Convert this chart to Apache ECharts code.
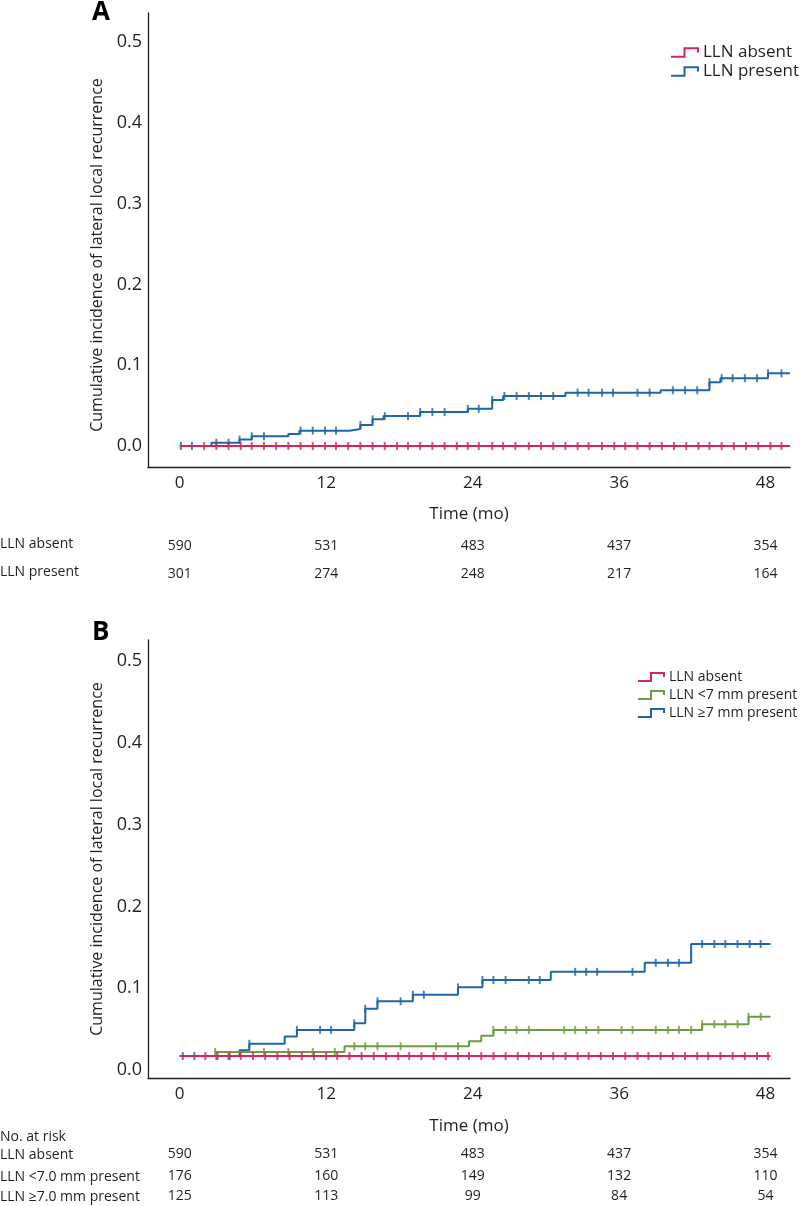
<!DOCTYPE html>
<html><head><meta charset="utf-8">
<script src="https://cdn.jsdelivr.net/npm/echarts@6/dist/echarts.min.js"></script>
<style>html,body{margin:0;padding:0;background:#fff}#c{width:800px;height:1206px}</style>
</head><body><div id="c"></div>
<script>
// ---------- data ----------
const timeTicks = [0, 12, 24, 36, 48];
const yTicks = [0, 0.1, 0.2, 0.3, 0.4, 0.5];
const yTitle = 'Cumulative incidence of lateral local recurrence';
const xTitle = 'Time (mo)';

const namesA = ['LLN absent', 'LLN present'];
const namesB = ['LLN absent', 'LLN <7 mm present', 'LLN \u22657 mm present'];
const riskRowsA = ['LLN absent', 'LLN present'];
const riskRowsB = ['LLN absent', 'LLN <7.0 mm present', 'LLN \u22657.0 mm present'];
const riskHeaderB = 'No. at risk';

const riskA_absent = [590, 531, 483, 437, 354];
const riskA_present = [301, 274, 248, 217, 164];
const riskB_absent = [590, 531, 483, 437, 354];
const riskB_lt7 = [176, 160, 149, 132, 110];
const riskB_ge7 = [125, 113, 99, 84, 54];

// step curves: [time, cumulative incidence]
const stepsA_absent = [[0, 0], [50, 0]];
const stepsA_present = [[0, 0], [2.6, 0.004], [4.9, 0.008], [5.9, 0.012], [8.9, 0.015], [9.8, 0.019],
  [13.9, 0.021], [14.8, 0.026], [15.8, 0.033], [16.7, 0.037], [19.7, 0.042], [23.6, 0.046],
  [25.6, 0.057], [26.5, 0.062], [31.6, 0.066], [39.4, 0.069], [43.4, 0.079], [44.3, 0.084],
  [48.2, 0.090], [50, 0.090]];
const stepsB_absent = [[0, 0.017], [48.4, 0.017]];
const stepsB_lt7 = [[2.9, 0.022], [13.5, 0.029], [23.7, 0.035], [24.7, 0.042], [25.7, 0.049],
  [42.8, 0.056], [46.6, 0.065], [48.4, 0.065]];
const stepsB_ge7 = [[0, 0.017], [4.9, 0.024], [5.7, 0.032], [8.6, 0.041], [9.6, 0.049],
  [14.3, 0.057], [15.2, 0.075], [16.2, 0.084], [19.1, 0.092], [22.8, 0.101], [24.8, 0.110],
  [30.4, 0.120], [38.1, 0.131], [41.9, 0.154], [48.4, 0.154]];

// censoring times (months)
const censorA_absent = [2.0, 3.0, 4.0, 5.0, 5.9, 6.9, 7.9, 8.9, 9.9, 10.9, 11.9, 12.8, 13.8, 14.8, 15.8,
  16.8, 17.8, 18.7, 19.7, 20.7, 21.7, 22.7, 23.6, 24.5, 25.6, 26.5, 27.5, 28.6, 29.6, 30.6, 31.6, 32.6,
  33.5, 34.6, 35.6, 36.5, 37.5, 38.5, 39.5, 40.5, 41.5, 42.5, 43.4, 44.4, 45.4, 46.4, 47.4, 48.4, 49.3];
const censorA_present = [0.1, 1.0, 3.0, 4.0, 4.9, 5.9, 6.9, 9.9, 10.9, 11.9, 12.8, 14.8, 15.8, 16.8,
  18.7, 19.7, 20.7, 21.7, 23.6, 24.5, 25.6, 26.6, 27.6, 28.6, 29.6, 30.6, 32.6, 33.5, 34.6, 35.5,
  37.5, 38.5, 40.4, 41.4, 42.4, 43.4, 44.4, 45.3, 46.3, 47.3, 48.2, 49.3];
const censorB_absent = [2.1, 3.1, 4.1, 5.0, 6.0, 7.0, 8.0, 9.0, 10.0, 11.0, 12.0, 12.9, 13.9, 14.9, 15.9,
  16.9, 17.9, 18.8, 19.8, 20.8, 21.8, 22.8, 23.7, 24.7, 25.7, 26.7, 27.7, 28.6, 29.6, 30.6, 31.6, 32.6,
  33.5, 34.5, 35.5, 36.5, 37.5, 38.4, 39.4, 40.4, 41.4, 42.4, 43.3, 44.3, 45.3, 46.3, 47.3, 48.2];
const censorB_lt7 = [2.9, 6.9, 8.9, 10.9, 12.7, 14.3, 15.2, 16.2, 18.1, 21.0, 22.8, 25.7, 26.7, 27.6,
  28.6, 31.5, 32.4, 33.3, 34.3, 36.2, 37.1, 39.0, 40.0, 40.9, 41.9, 42.8, 43.8, 44.7, 45.7, 46.6, 47.6];
const censorB_ge7 = [0.25, 1.2, 3.0, 4.0, 5.7, 9.6, 11.5, 12.4, 14.3, 15.2, 16.2, 18.1, 19.1, 20.0, 22.8,
  24.8, 25.7, 26.7, 28.6, 29.5, 32.4, 33.3, 34.2, 37.1, 39.0, 40.0, 40.9, 42.8, 43.8, 44.7, 45.7, 46.7, 47.6];

// ---------- style ----------
const RED = '#d4245b', BLUE = '#1f66a8', GREEN = '#6c9e3f', INK = '#231f20';
const FONT = 'Open Sans';
const stepIcon = 'path://M0,9 L13,9 L13,1 L26,1 L26,5';

function stepValue(steps, t) {
  let v = steps[0][1];
  for (const p of steps) { if (p[0] <= t + 1e-9) v = p[1]; }
  return v;
}

const grids = [
  { left: 148, top: 13, width: 642, height: 454 },
  { left: 148, top: 640, width: 642, height: 438 }
];
const yRange = [[-0.026, 0.536], [-0.0098, 0.5257]];
const yNamePad = [[0, 30, 0, 0], [0, 0, 0, 0]];
const X_MIN = -2.6, X_MAX = 50;

const xAxes = [], yAxes = [];
function mainX(g, nameGap) {
  xAxes.push({
    gridIndex: g, type: 'value', min: X_MIN, max: X_MAX, position: 'bottom',
    name: xTitle, nameLocation: 'middle', nameGap: nameGap,
    nameTextStyle: { fontSize: 17, color: INK, fontFamily: FONT },
    axisLine: { show: true, onZero: false, lineStyle: { color: INK, width: 1.3 } },
    axisTick: { show: false }, splitLine: { show: false },
    axisLabel: { customValues: timeTicks, fontSize: 17, color: INK, fontFamily: FONT, margin: 8 }
  });
}
function riskX(g, offset, arr) {
  xAxes.push({
    gridIndex: g, type: 'value', min: X_MIN, max: X_MAX, position: 'bottom', offset: offset,
    axisLine: { show: false, onZero: false }, axisTick: { show: false }, splitLine: { show: false },
    axisLabel: { customValues: timeTicks, margin: 0, fontSize: 14, color: INK, fontFamily: FONT,
      formatter: v => String(arr[timeTicks.indexOf(v)]) }
  });
}
mainX(0, 39); riskX(0, 72, riskA_absent); riskX(0, 100, riskA_present);
mainX(1, 40); riskX(1, 69, riskB_absent); riskX(1, 91, riskB_lt7); riskX(1, 111, riskB_ge7);
const mainXIndex = [0, 3];

[0, 1].forEach(g => {
  yAxes.push({
    gridIndex: g, type: 'value', min: yRange[g][0], max: yRange[g][1],
    name: yTitle, nameLocation: 'middle', nameGap: 36,
    nameTextStyle: { fontSize: 16, color: INK, fontFamily: FONT, padding: yNamePad[g] },
    axisLine: { show: true, onZero: false, lineStyle: { color: INK, width: 1.3 } },
    axisTick: { show: false }, splitLine: { show: false },
    axisLabel: { customValues: yTicks, formatter: v => v.toFixed(1), fontSize: 18, color: INK,
      fontFamily: FONT, margin: 6 }
  });
});

const series = [];
function curve(g, name, steps, censor, color, z) {
  series.push({
    type: 'line', name: name, xAxisIndex: mainXIndex[g], yAxisIndex: g, step: 'end',
    data: steps, symbol: 'none', showSymbol: false, silent: true, z: z,
    lineStyle: { color: color, width: 2 }, itemStyle: { color: color }
  });
  series.push({
    type: 'scatter', name: name + ' (censored)', xAxisIndex: mainXIndex[g], yAxisIndex: g,
    data: censor.map(t => [t, stepValue(steps, t)]), symbol: 'rect', symbolSize: [2, 8],
    silent: true, z: z + 1, itemStyle: { color: color }
  });
}
curve(0, namesA[1], stepsA_present, censorA_present, BLUE, 2);
curve(0, namesA[0], stepsA_absent, censorA_absent, RED, 4);
curve(1, namesB[2], stepsB_ge7, censorB_ge7, BLUE, 2);
curve(1, namesB[1], stepsB_lt7, censorB_lt7, GREEN, 4);
curve(1, namesB[0], stepsB_absent, censorB_absent, RED, 6);

const legendColors = { 'LLN absent': RED, 'LLN present': BLUE, 'LLN <7 mm present': GREEN, 'LLN \u22657 mm present': BLUE };
function legendData(names) {
  return names.map(n => ({ name: n, icon: stepIcon,
    itemStyle: { color: 'rgba(0,0,0,0)', borderColor: legendColors[n], borderWidth: 2 } }));
}

const graphics = [];
function rowLabel(text, yCenter) {
  graphics.push({ type: 'text', left: 0, top: yCenter - 7,
    style: { text: text, fontSize: 14, fontFamily: FONT, fill: INK } });
}
rowLabel(riskRowsA[0], 544); rowLabel(riskRowsA[1], 572);
rowLabel(riskHeaderB, 1137);
rowLabel(riskRowsB[0], 1155); rowLabel(riskRowsB[1], 1177); rowLabel(riskRowsB[2], 1197);

const chart = echarts.init(document.getElementById('c'), null, { renderer: 'canvas' });
chart.setOption({
  animation: false,
  backgroundColor: '#fff',
  textStyle: { fontFamily: FONT, color: INK },
  title: [
    { text: 'A', left: 92, top: 0, padding: 0, textStyle: { fontSize: 26, fontWeight: 'bold', color: '#000', fontFamily: FONT } },
    { text: 'B', left: 92, top: 620, padding: 0, textStyle: { fontSize: 26, fontWeight: 'bold', color: '#000', fontFamily: FONT } }
  ],
  legend: [
    { orient: 'vertical', left: 670, top: 43, padding: 0, itemWidth: 27, itemHeight: 9, itemGap: 0,
      textStyle: { fontSize: 17, lineHeight: 19, color: INK, fontFamily: FONT }, selectedMode: false,
      data: legendData(namesA) },
    { orient: 'vertical', left: 637, top: 668, padding: 0, itemWidth: 26, itemHeight: 8, itemGap: 0,
      textStyle: { fontSize: 14, lineHeight: 18, color: INK, fontFamily: FONT }, selectedMode: false,
      data: legendData(namesB) }
  ],
  grid: grids,
  xAxis: xAxes,
  yAxis: yAxes,
  series: series,
  graphic: graphics
});
</script>
</body></html>
